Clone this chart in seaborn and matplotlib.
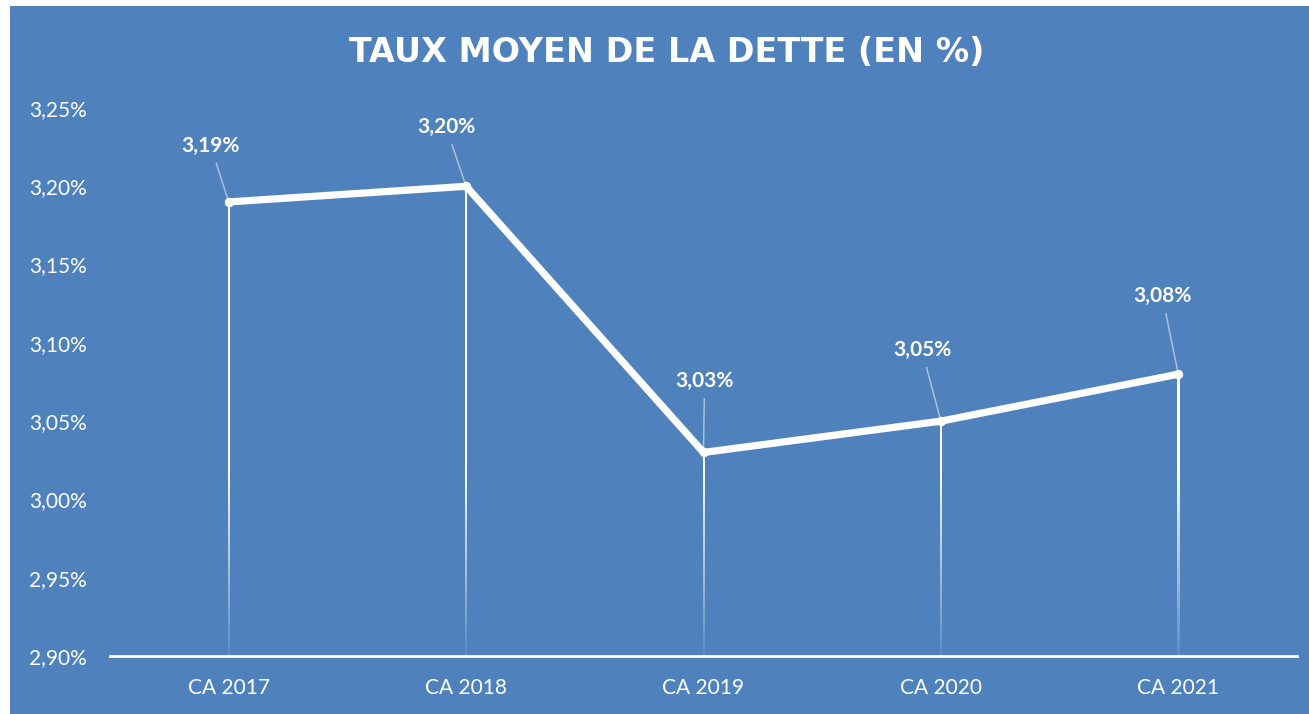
import matplotlib
matplotlib.use("Agg")
import matplotlib.pyplot as plt
import seaborn as sns
import numpy as np
import pandas as pd
from matplotlib.patches import Rectangle
from matplotlib.ticker import FuncFormatter

categories = ["CA 2017", "CA 2018", "CA 2019", "CA 2020", "CA 2021"]
values = [3.19, 3.20, 3.03, 3.05, 3.08]
y_ticks = [2.90, 2.95, 3.00, 3.05, 3.10, 3.15, 3.20, 3.25]
title = "TAUX MOYEN DE LA DETTE (EN %)"

BLUE = "#4F81BD"
sns.set_style("white")
plt.rcParams["font.family"] = ["Lato", "DejaVu Sans"]

df = pd.DataFrame({"cat": categories, "val": values})

W, H = 1309, 714
fig = plt.figure(figsize=(W / 100, H / 100), dpi=100)
fig.patch.set_facecolor("white")
fig.patches.append(Rectangle((10 / W, 0), 1, (H - 6) / H, transform=fig.transFigure,
                             facecolor=BLUE, edgecolor="none", zorder=-10))

ax_l, ax_r, ax_t, ax_b = 110, 1297, 108, 656
ax = fig.add_axes([ax_l / W, 1 - ax_b / H, (ax_r - ax_l) / W, (ax_b - ax_t) / H])
ax.set_facecolor("none")

xpos = np.arange(len(categories))
ymin = y_ticks[0]
xlim = (-0.5, len(categories) - 0.5)
hw = 1.0 * (xlim[1] - xlim[0]) / (ax_r - ax_l)  # half of a 2px line in data units

# drop lines with fade toward the bottom (gradient images)
for x, v in zip(xpos, values):
    yy = np.linspace(v, ymin, 300)
    alpha = np.clip(0.08 + 0.92 * (yy - ymin) / (3.02 - ymin), 0.08, 1.0)
    img = np.ones((len(yy), 1, 4))
    img[:, 0, 3] = alpha
    ax.imshow(img, extent=(x - hw, x + hw, ymin, v), aspect="auto",
              interpolation="bilinear", zorder=2, origin="upper")

sns.lineplot(data=df, x=xpos, y="val", ax=ax, color="white", linewidth=5.2,
             marker="o", markersize=6, markeredgecolor="white", zorder=3,
             solid_joinstyle="miter", sort=False)

offsets = [(-18, 56), (-20, 59), (1, 71), (-19, 71), (-16, 78)]
for x, v, (dx, dy) in zip(xpos, values, offsets):
    ax.annotate(f"{v:.2f}%".replace(".", ","), xy=(x, v), xytext=(dx, dy),
                textcoords="offset pixels", ha="center", va="center",
                color="white", fontsize=15, fontweight="bold",
                arrowprops=dict(arrowstyle="-", color=(1, 1, 1, 0.5), lw=1.1,
                                shrinkA=3, shrinkB=1), zorder=4)

ax.set_xlim(*xlim)
ax.set_ylim(y_ticks[0], y_ticks[-1])
ax.set_yticks(y_ticks)
ax.yaxis.set_major_formatter(FuncFormatter(lambda v, p: f"{v:.2f}%".replace(".", ",")))
ax.set_xticks(xpos)
ax.set_xticklabels(categories)
ax.set_xlabel("")
ax.set_ylabel("")
for s in ["top", "right", "left"]:
    ax.spines[s].set_visible(False)
ax.spines["bottom"].set_color("white")
ax.spines["bottom"].set_linewidth(2)
ax.spines["bottom"].set_zorder(5)
ax.tick_params(axis="both", length=0, colors="white", labelsize=15)
ax.tick_params(axis="x", pad=16)
for lbl in ax.get_yticklabels():
    lbl.set_horizontalalignment("left")
    lbl.set_x(-81 / (ax_r - ax_l))
ax.tick_params(axis="y", pad=0)

fig.text(667 / W, 1 - 53 / H, title, ha="center", va="center", color="white",
         fontsize=24, fontweight="bold", family=["DejaVu Sans"])

fig.savefig("out.png", dpi=100, facecolor=fig.get_facecolor())
